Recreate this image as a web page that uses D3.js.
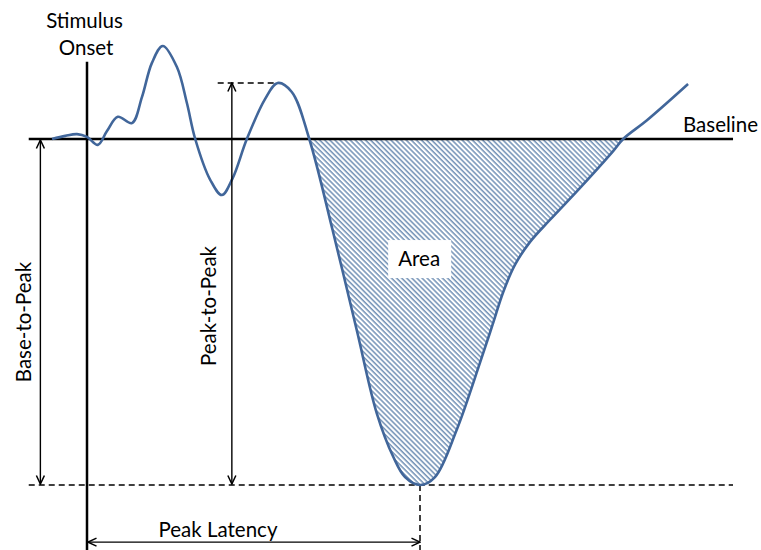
<!DOCTYPE html>
<html>
  <head>
    <title>ERP measures</title>
    <style>
      body { margin: 0; background: #fff; }
      svg { font-family: Lato, "Open Sans", sans-serif; }
      .wave { fill: none; stroke: #41669a; stroke-width: 2.6; }
      .axis-line { stroke: #000; stroke-width: 2.5; }
      .guide { stroke: #000; stroke-width: 1.5; stroke-dasharray: 6,4; }
      .arrow { stroke: #000; stroke-width: 1.4; }
      .label { font-size: 20.5px; fill: #000; }
    </style>
    <script src="https://d3js.org/d3.v7.min.js"></script>
  </head>
  <body>
    <div id="chart"></div>
    <script>
// waveform samples (time in ms from stimulus onset, amplitude in uV)
var times = [-42, -26, -12, 0, 13, 24, 37, 54, 66, 78, 91, 108, 120, 130, 148, 162, 175, 192, 214, 229, 246,
             267, 295, 324, 348, 368, 382, 400, 418, 444, 472, 487, 500, 514, 532, 556, 592, 632, 644, 673, 722];
var amps  = [0, 0.09, 0.14, 0.06, -0.17, 0.23, 0.64, 0.46, 1.21, 2.2, 2.69, 2.08, 1.04, 0, -1.18, -1.62, -1.13, 0, 1.16, 1.62, 1.36,
             0, -2.63, -5.52, -7.92, -9.19, -9.77, -10, -9.77, -8.41, -6.47, -5.38, -4.42, -3.64, -2.98, -2.34, -1.42, -0.35, 0, 0.55, 1.59];

// measures marked on the figure
var peakTime = 400, peakAmp = -10;          // the big negative peak
var prevPeakTime = 229, prevPeakAmp = 1.62; // preceding positive peak
var areaStart = 267, areaEnd = 644;         // zero crossings bounding the area
var baselineRange = [-70, 776];
var baseArrowTime = -56, p2pArrowTime = 174;
var latencyAmp = -11.65;

var width = 761, height = 550;

var xScale = d3.scaleLinear().domain([0, 400]).range([87, 420]);
var yScale = d3.scaleLinear().domain([0, -10]).range([139, 485]);

var data = times.map((t, i) => ({t: t, a: amps[i]}));

var svg = d3.select("#chart").append("svg")
  .attr("width", width)
  .attr("height", height);

var defs = svg.append("defs");

// hatch for the area
var hatch = defs.append("pattern")
  .attr("id", "hatch")
  .attr("patternUnits", "userSpaceOnUse")
  .attr("width", 3.6)
  .attr("height", 3.6)
  .attr("patternTransform", "rotate(-45)");
hatch.append("line")
  .attr("x1", 1).attr("y1", 0).attr("x2", 1).attr("y2", 3.6)
  .attr("stroke", "#5b80aa")
  .attr("stroke-width", 1.3);

defs.append("marker")
  .attr("id", "head")
  .attr("viewBox", "0 0 10 10")
  .attr("refX", 9.5).attr("refY", 5)
  .attr("markerWidth", 10).attr("markerHeight", 10)
  .attr("markerUnits", "userSpaceOnUse")
  .attr("orient", "auto-start-reverse")
  .append("path")
  .attr("d", "M1,1 L9.5,5 L1,9")
  .attr("fill", "none")
  .attr("stroke", "#000")
  .attr("stroke-width", 1.5);

defs.append("clipPath")
  .attr("id", "areaClip")
  .append("rect")
  .attr("x", xScale(areaStart))
  .attr("y", yScale(0))
  .attr("width", xScale(areaEnd) - xScale(areaStart))
  .attr("height", yScale(peakAmp) - yScale(0) + 5);

var curve = d3.curveCatmullRom.alpha(0.5);

// area under baseline
var area = d3.area()
  .x(d => xScale(d.t))
  .y0(yScale(0))
  .y1(d => yScale(d.a))
  .curve(curve);

svg.append("path")
  .datum(data)
  .attr("d", area)
  .attr("fill", "url(#hatch)")
  .attr("clip-path", "url(#areaClip)");

// area label
var areaLabel = {t: 399, a: -3.47};
svg.append("rect")
  .attr("x", xScale(areaLabel.t) - 31)
  .attr("y", yScale(areaLabel.a) - 19)
  .attr("width", 63)
  .attr("height", 38)
  .attr("fill", "#fff");
svg.append("text")
  .attr("class", "label")
  .attr("x", xScale(areaLabel.t))
  .attr("y", yScale(areaLabel.a) + 7)
  .attr("text-anchor", "middle")
  .text("Area");

// dashed guides
svg.append("line").attr("class", "guide")
  .attr("x1", xScale(baselineRange[0])).attr("x2", xScale(baselineRange[1]))
  .attr("y1", yScale(peakAmp)).attr("y2", yScale(peakAmp));
svg.append("line").attr("class", "guide")
  .attr("x1", xScale(peakTime)).attr("x2", xScale(peakTime))
  .attr("y1", yScale(peakAmp)).attr("y2", height);
svg.append("line").attr("class", "guide")
  .attr("x1", xScale(157)).attr("x2", xScale(prevPeakTime + 3))
  .attr("y1", yScale(prevPeakAmp)).attr("y2", yScale(prevPeakAmp));

// baseline and onset
svg.append("line").attr("class", "axis-line")
  .attr("x1", xScale(baselineRange[0])).attr("x2", xScale(baselineRange[1]))
  .attr("y1", yScale(0)).attr("y2", yScale(0));
svg.append("line").attr("class", "axis-line")
  .attr("x1", xScale(0)).attr("x2", xScale(0))
  .attr("y1", yScale(2.23)).attr("y2", height);

// waveform
var line = d3.line()
  .x(d => xScale(d.t))
  .y(d => yScale(d.a))
  .curve(curve);

svg.append("path")
  .datum(data)
  .attr("class", "wave")
  .attr("d", line);

// double arrows
function arrow(x1, y1, x2, y2) {
  svg.append("line").attr("class", "arrow")
    .attr("x1", x1).attr("y1", y1).attr("x2", x2).attr("y2", y2)
    .attr("marker-start", "url(#head)")
    .attr("marker-end", "url(#head)");
}
arrow(xScale(baseArrowTime), yScale(0) + 1, xScale(baseArrowTime), yScale(peakAmp) - 1);
arrow(xScale(p2pArrowTime), yScale(prevPeakAmp), xScale(p2pArrowTime), yScale(peakAmp) - 1);
arrow(xScale(0) + 1, yScale(latencyAmp), xScale(peakTime), yScale(latencyAmp));

// text labels
svg.append("text").attr("class", "label")
  .attr("x", xScale(-3)).attr("y", 28)
  .attr("text-anchor", "middle").text("Stimulus");
svg.append("text").attr("class", "label")
  .attr("x", xScale(-1)).attr("y", 55)
  .attr("text-anchor", "middle").text("Onset");
svg.append("text").attr("class", "label")
  .attr("x", 683).attr("y", yScale(0) - 7)
  .text("Baseline");
svg.append("text").attr("class", "label")
  .attr("x", 218).attr("y", yScale(latencyAmp) - 5)
  .attr("text-anchor", "middle").text("Peak Latency");
svg.append("text").attr("class", "label")
  .attr("transform", `translate(31, 322) rotate(-90)`)
  .attr("text-anchor", "middle").text("Base-to-Peak");
svg.append("text").attr("class", "label")
  .attr("transform", `translate(216, 306) rotate(-90)`)
  .attr("text-anchor", "middle").text("Peak-to-Peak");
    </script>
  </body>
</html>
